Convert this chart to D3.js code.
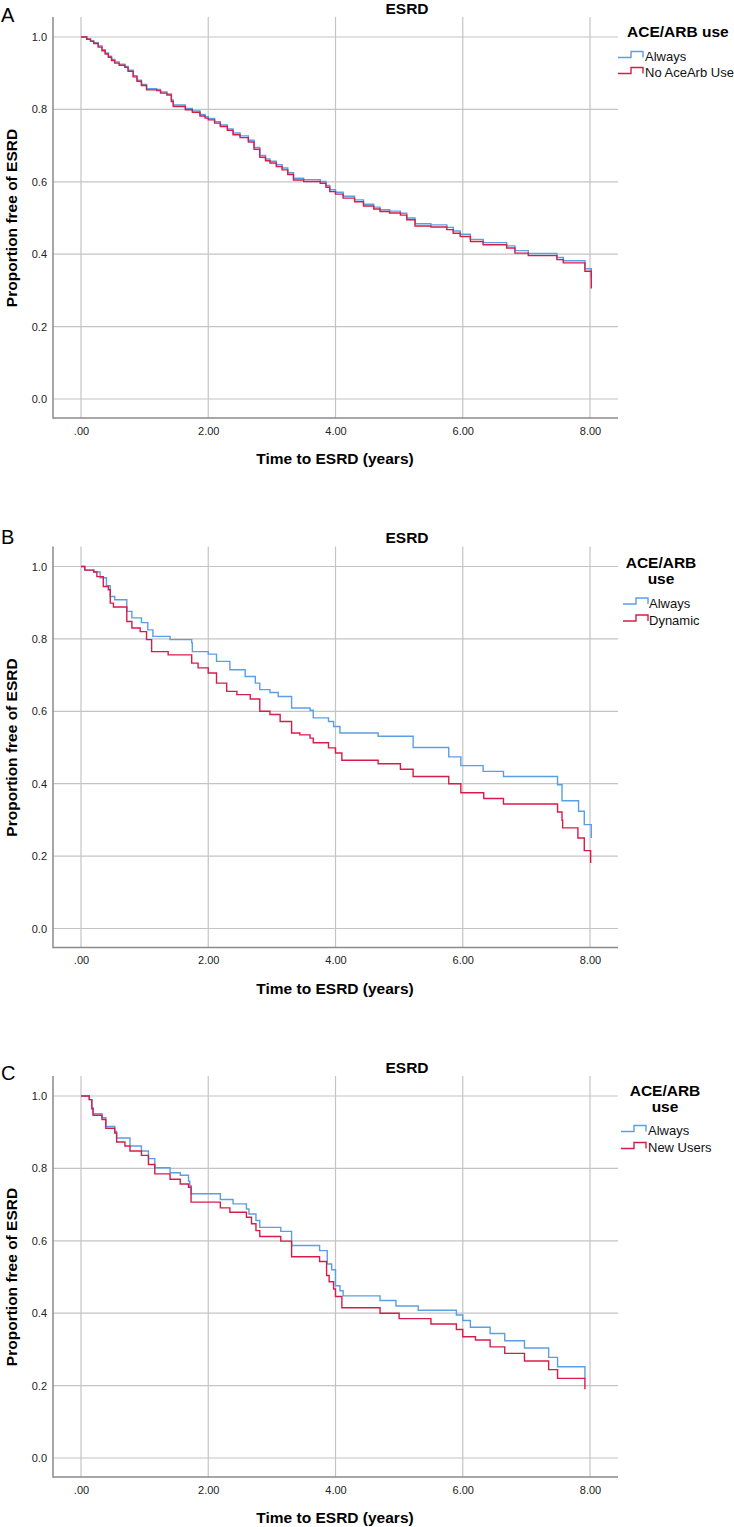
<!DOCTYPE html>
<html><head><meta charset="utf-8">
<script src="https://cdn.jsdelivr.net/npm/d3@7"></script>
<style>body{margin:0;background:#fff} svg{display:block}</style>
</head><body>
<svg id="chart" width="734" height="1527"></svg>
<script>
// ---------- data ----------
const xTicks = [0, 2, 4, 6, 8];
const xTickLabels = [".00", "2.00", "4.00", "6.00", "8.00"];
const yTicks = [0, 0.2, 0.4, 0.6, 0.8, 1.0];
const yTickLabels = ["0.0", "0.2", "0.4", "0.6", "0.8", "1.0"];
const panelLetters = ["A", "B", "C"];
const chartTitle = "ESRD";
const xTitle = "Time to ESRD (years)";
const yTitle = "Proportion free of ESRD";
const legendTitle = "ACE/ARB use";
const groupsA = ["Always", "No AceArb Use"];
const groupsB = ["Always", "Dynamic"];
const groupsC = ["Always", "New Users"];

// Kaplan-Meier step points [time (years), proportion free]
const A_always = [[0,1],[0.09,0.995],[0.15,0.99],[0.2,0.984],[0.27,0.975],[0.33,0.965],[0.38,0.956],[0.43,0.947],[0.48,0.938],[0.53,0.931],[0.6,0.925],[0.69,0.919],[0.74,0.908],[0.82,0.893],[0.88,0.881],[0.95,0.869],[1.03,0.857],[1.19,0.855],[1.25,0.848],[1.35,0.843],[1.42,0.826],[1.45,0.812],[1.64,0.803],[1.75,0.796],[1.87,0.786],[1.95,0.78],[2.0,0.775],[2.1,0.766],[2.19,0.757],[2.3,0.746],[2.39,0.735],[2.5,0.727],[2.63,0.715],[2.72,0.695],[2.81,0.673],[2.9,0.663],[2.97,0.657],[3.07,0.647],[3.16,0.638],[3.25,0.625],[3.34,0.61],[3.5,0.606],[3.76,0.601],[3.85,0.59],[3.91,0.578],[4.0,0.571],[4.12,0.56],[4.3,0.55],[4.44,0.538],[4.6,0.53],[4.7,0.523],[4.85,0.519],[5.02,0.513],[5.12,0.5],[5.25,0.484],[5.5,0.481],[5.75,0.474],[5.85,0.464],[5.96,0.455],[6.12,0.441],[6.32,0.432],[6.69,0.423],[6.82,0.41],[7.03,0.402],[7.48,0.391],[7.58,0.382],[7.92,0.36],[8.02,0.335]];
const A_none = [[0,1],[0.09,0.994],[0.15,0.988],[0.2,0.982],[0.27,0.972],[0.33,0.962],[0.38,0.953],[0.43,0.944],[0.48,0.935],[0.53,0.928],[0.6,0.922],[0.69,0.916],[0.74,0.905],[0.82,0.89],[0.88,0.878],[0.95,0.866],[1.03,0.854],[1.19,0.852],[1.25,0.845],[1.35,0.84],[1.42,0.822],[1.45,0.808],[1.64,0.799],[1.75,0.792],[1.87,0.782],[1.95,0.776],[2.0,0.771],[2.1,0.762],[2.19,0.753],[2.3,0.742],[2.39,0.73],[2.5,0.722],[2.63,0.71],[2.72,0.69],[2.81,0.668],[2.9,0.658],[2.97,0.652],[3.07,0.642],[3.16,0.633],[3.25,0.62],[3.34,0.605],[3.5,0.601],[3.76,0.596],[3.85,0.585],[3.91,0.573],[4.0,0.566],[4.12,0.555],[4.3,0.545],[4.44,0.533],[4.6,0.525],[4.7,0.518],[4.85,0.514],[5.02,0.508],[5.12,0.495],[5.25,0.478],[5.5,0.475],[5.75,0.468],[5.85,0.458],[5.96,0.449],[6.12,0.435],[6.32,0.426],[6.69,0.417],[6.82,0.403],[7.03,0.396],[7.48,0.385],[7.58,0.376],[7.92,0.353],[8.02,0.33],[8.02,0.305]];

const B_always = [[0,1],[0.06,0.99],[0.2,0.985],[0.3,0.969],[0.4,0.947],[0.46,0.917],[0.53,0.908],[0.72,0.876],[0.8,0.858],[0.95,0.845],[1.05,0.825],[1.13,0.807],[1.4,0.798],[1.74,0.789],[1.75,0.765],[2.0,0.758],[2.13,0.738],[2.34,0.715],[2.58,0.696],[2.74,0.678],[2.81,0.66],[2.97,0.652],[3.1,0.641],[3.31,0.609],[3.6,0.603],[3.65,0.582],[3.89,0.572],[3.97,0.558],[4.07,0.54],[4.67,0.531],[5.22,0.5],[5.78,0.474],[5.97,0.45],[6.32,0.434],[6.64,0.42],[7.49,0.397],[7.56,0.353],[7.82,0.324],[7.91,0.287],[8.02,0.25]];
const B_dynamic = [[0,1],[0.06,0.99],[0.2,0.985],[0.25,0.972],[0.35,0.945],[0.43,0.936],[0.46,0.899],[0.51,0.888],[0.72,0.848],[0.8,0.83],[0.93,0.82],[1.03,0.798],[1.11,0.765],[1.37,0.756],[1.74,0.733],[1.84,0.72],[2.0,0.706],[2.13,0.678],[2.29,0.655],[2.45,0.646],[2.66,0.634],[2.81,0.6],[2.97,0.591],[3.13,0.572],[3.31,0.54],[3.44,0.535],[3.6,0.526],[3.65,0.513],[3.89,0.499],[4.0,0.485],[4.1,0.465],[4.67,0.455],[5.02,0.44],[5.22,0.42],[5.78,0.4],[5.97,0.375],[6.33,0.359],[6.64,0.344],[7.49,0.322],[7.56,0.299],[7.57,0.278],[7.81,0.25],[7.91,0.215],[8.01,0.181]];

const C_always = [[0,1],[0.13,0.99],[0.17,0.968],[0.19,0.951],[0.33,0.94],[0.39,0.916],[0.53,0.902],[0.56,0.884],[0.77,0.862],[0.95,0.848],[1.06,0.827],[1.16,0.802],[1.4,0.788],[1.56,0.781],[1.69,0.765],[1.71,0.752],[1.73,0.73],[2.19,0.714],[2.39,0.702],[2.6,0.688],[2.64,0.674],[2.75,0.656],[2.81,0.637],[3.14,0.626],[3.31,0.587],[3.75,0.573],[3.87,0.536],[3.94,0.52],[4.0,0.476],[4.07,0.462],[4.12,0.448],[4.7,0.435],[4.95,0.42],[5.3,0.408],[5.9,0.395],[6.0,0.38],[6.12,0.361],[6.43,0.344],[6.66,0.324],[6.97,0.304],[7.35,0.278],[7.49,0.252],[7.92,0.22]];
const C_new = [[0,1],[0.13,0.99],[0.17,0.965],[0.19,0.947],[0.33,0.935],[0.39,0.911],[0.53,0.898],[0.56,0.873],[0.69,0.862],[0.77,0.848],[0.95,0.836],[1.06,0.811],[1.16,0.785],[1.4,0.77],[1.56,0.757],[1.69,0.748],[1.73,0.707],[2.19,0.691],[2.34,0.679],[2.6,0.665],[2.68,0.647],[2.75,0.628],[2.81,0.612],[3.14,0.599],[3.31,0.556],[3.75,0.543],[3.86,0.504],[3.9,0.487],[3.97,0.467],[4.0,0.446],[4.1,0.415],[4.7,0.4],[5.0,0.385],[5.5,0.37],[5.9,0.355],[6.0,0.335],[6.2,0.326],[6.43,0.307],[6.66,0.289],[6.97,0.268],[7.35,0.244],[7.49,0.22],[7.92,0.19]];

// ---------- drawing ----------
const FONT = "'Liberation Sans', Arial, Helvetica, sans-serif";
const BLUE = "#5a9fe6", RED = "#d81c4a";
const svg = d3.select("#chart").style("font-family", FONT);

const panels = [
  {off: 0,     letter: panelLetters[0], letterY: 21.5, series: [A_always, A_none], names: groupsA,
   legend: {oneLine: true, titleX: 627, titleY: 37, symX: 618, textX: 645, rowY: [61, 77]}},
  {off: 529.5, letter: panelLetters[1], letterY: 14,   series: [B_always, B_dynamic], names: groupsB,
   legend: {oneLine: false, titleCX: 661, titleY: 38, symX: 623, textX: 649, rowY: [78, 95]}},
  {off: 1059,  letter: panelLetters[2], letterY: 21,   series: [C_always, C_new], names: groupsC,
   legend: {oneLine: false, titleCX: 665, titleY: 37, symX: 621, textX: 648, rowY: [76, 93]}}
];

const L = 53, R = 618, T = 17, B = 418;

panels.forEach(p => {
  const g = svg.append("g").attr("transform", `translate(0,${p.off})`);
  const x = d3.scaleLinear().domain([-0.44, 8.44]).range([L, R]);
  const y = d3.scaleLinear().domain([-0.0525, 1.0553]).range([B, T]);

  // grid
  g.append("g").selectAll("line").data(yTicks).join("line")
    .attr("x1", L).attr("x2", R).attr("y1", d => y(d)).attr("y2", d => y(d))
    .attr("stroke", "#c4c4c4").attr("stroke-width", 1.2);
  g.append("g").selectAll("line").data(xTicks).join("line")
    .attr("x1", d => x(d)).attr("x2", d => x(d)).attr("y1", T).attr("y2", B)
    .attr("stroke", "#c4c4c4").attr("stroke-width", 1.2);

  // axes (labels through d3 axes)
  const yAxis = d3.axisLeft(y).tickValues(yTicks).tickSize(0).tickPadding(6)
    .tickFormat((d, i) => yTickLabels[i]);
  const ya = g.append("g").attr("transform", `translate(${L},0)`).call(yAxis);
  ya.select(".domain").remove();
  ya.selectAll("text").attr("font-size", 11).attr("fill", "#222").attr("font-family", FONT);

  const xAxis = d3.axisBottom(x).tickValues(xTicks).tickSize(0).tickPadding(9)
    .tickFormat((d, i) => xTickLabels[i]);
  const xa = g.append("g").attr("transform", `translate(0,${B})`).call(xAxis);
  xa.select(".domain").remove();
  xa.selectAll("text").attr("font-size", 11).attr("fill", "#222").attr("font-family", FONT);

  g.append("line").attr("x1", L).attr("x2", L).attr("y1", T).attr("y2", B + 0.75)
    .attr("stroke", "#8a8a8a").attr("stroke-width", 1.5);
  g.append("line").attr("x1", L).attr("x2", R).attr("y1", B).attr("y2", B)
    .attr("stroke", "#8a8a8a").attr("stroke-width", 1.5);

  // curves
  const line = d3.line().x(d => x(d[0])).y(d => y(d[1])).curve(d3.curveStepAfter);
  [BLUE, RED].forEach((c, i) => {
    g.append("path").datum(p.series[i]).attr("d", line)
      .attr("fill", "none").attr("stroke", c).attr("stroke-width", 1.4);
  });

  // titles
  g.append("text").attr("x", 407).attr("y", 13.5).attr("text-anchor", "middle")
    .attr("font-weight", "bold").attr("font-size", 15.5).text(chartTitle);
  g.append("text").attr("x", 335).attr("y", 464).attr("text-anchor", "middle")
    .attr("font-weight", "bold").attr("font-size", 15.5).text(xTitle);
  g.append("text").attr("transform", `translate(17,${y(0.5)}) rotate(-90)`)
    .attr("text-anchor", "middle").attr("font-weight", "bold").attr("font-size", 15.5).text(yTitle);
  g.append("text").attr("x", 1).attr("y", p.letterY).attr("font-size", 20).text(p.letter);

  // legend
  const lg = p.legend;
  if (lg.oneLine) {
    g.append("text").attr("x", lg.titleX).attr("y", lg.titleY).attr("font-weight", "bold")
      .attr("font-size", 15.5).text(legendTitle);
  } else {
    const parts = legendTitle.split(" ");
    g.append("text").attr("x", lg.titleCX).attr("y", lg.titleY).attr("text-anchor", "middle")
      .attr("font-weight", "bold").attr("font-size", 15.5).text(parts[0]);
    g.append("text").attr("x", lg.titleCX).attr("y", lg.titleY + 16).attr("text-anchor", "middle")
      .attr("font-weight", "bold").attr("font-size", 15.5).text(parts[1]);
  }
  p.names.forEach((n, i) => {
    const by = lg.rowY[i];
    const sx = lg.symX;
    g.append("path").attr("d", `M${sx},${by - 3.5}H${sx + 13}V${by - 9.5}H${sx + 25}V${by - 3.5}`)
      .attr("fill", "none").attr("stroke", i === 0 ? BLUE : RED).attr("stroke-width", 1.4);
    g.append("text").attr("x", lg.textX).attr("y", by).attr("font-size", 13).attr("fill", "#111").text(n);
  });
});
</script>
</body></html>
